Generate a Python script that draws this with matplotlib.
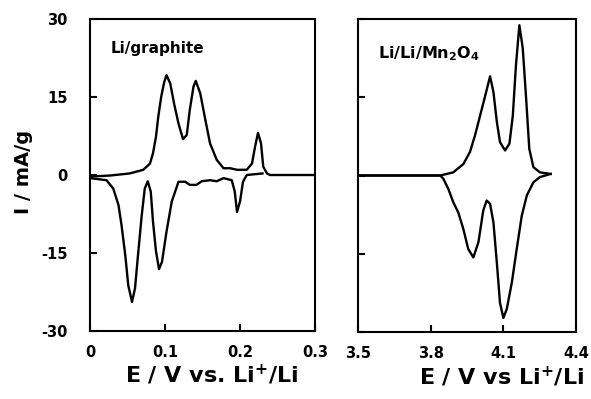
import matplotlib
matplotlib.use("Agg")
import matplotlib.pyplot as plt

plt.rcParams['font.family'] = ['DejaVu Sans']
plt.rcParams['font.weight'] = 'bold'
plt.rcParams['mathtext.default'] = 'bf'

# Li/graphite: anodic sweep (upper branch)
gr_up_v = [0.0, 0.027, 0.053, 0.071, 0.080, 0.084, 0.088, 0.091, 0.095, 0.099, 0.102,
           0.107, 0.112, 0.118, 0.124, 0.129, 0.133, 0.138, 0.141, 0.147, 0.153,
           0.160, 0.169, 0.178, 0.187, 0.196, 0.209, 0.216, 0.220, 0.224, 0.228,
           0.231, 0.236, 0.240, 0.300]
gr_up_i = [-0.3, -0.1, 0.3, 1.0, 2.2, 4.2, 7.4, 11.2, 15.1, 17.9, 19.2,
           17.6, 13.8, 9.9, 6.9, 7.7, 12.5, 17.0, 18.1, 15.7, 11.2,
           6.1, 2.9, 1.3, 1.3, 1.0, 1.0, 2.2, 5.4, 8.1, 6.1,
           1.6, 0.3, 0.0, 0.0]
# Li/graphite: cathodic sweep (lower branch)
gr_dn_v = [0.0, 0.022, 0.031, 0.038, 0.042, 0.047, 0.051, 0.056, 0.060, 0.064, 0.069,
           0.073, 0.077, 0.081, 0.084, 0.088, 0.092, 0.096, 0.102, 0.109, 0.118,
           0.127, 0.133, 0.142, 0.149, 0.160, 0.169, 0.178, 0.189, 0.193, 0.196,
           0.200, 0.204, 0.209, 0.230]
gr_dn_i = [-0.6, -1.0, -2.6, -5.8, -9.6, -15.4, -21.2, -24.4, -21.8, -15.4, -7.7,
           -2.6, -1.2, -3.2, -9.0, -14.7, -18.1, -16.7, -10.9, -5.1, -1.3,
           -1.3, -1.9, -1.9, -1.2, -1.0, -1.2, -0.6, -1.0, -3.2, -7.1,
           -5.1, -1.3, 0.0, 0.3]

# Li/LiMn2O4: anodic sweep
mn_up_v = [3.5, 3.839, 3.893, 3.935, 3.962, 3.983, 4.004, 4.024, 4.045, 4.059, 4.073,
           4.086, 4.107, 4.125, 4.139, 4.152, 4.166, 4.180, 4.194, 4.207, 4.224,
           4.251, 4.295]
mn_up_i = [0.0, 0.0, 0.6, 2.2, 4.5, 7.7, 11.5, 15.1, 19.0, 16.0, 10.3,
           6.4, 4.8, 6.1, 11.5, 21.2, 28.8, 24.4, 14.7, 5.1, 1.6,
           0.6, 0.3]
# Li/LiMn2O4: cathodic sweep
mn_dn_v = [4.295, 4.251, 4.224, 4.197, 4.176, 4.155, 4.135, 4.114, 4.100, 4.086, 4.073,
           4.059, 4.045, 4.031, 4.017, 3.997, 3.976, 3.955, 3.935, 3.914, 3.893,
           3.873, 3.852, 3.839, 3.5]
mn_dn_i = [0.3, -0.3, -1.3, -3.8, -7.7, -14.1, -20.5, -25.6, -27.3, -24.4, -16.7,
           -9.0, -5.4, -4.8, -6.7, -12.8, -15.7, -14.1, -10.3, -7.1, -5.1,
           -2.6, -0.6, 0.0, 0.0]

fig = plt.figure(figsize=(5.91, 3.99), dpi=100)
ax1 = fig.add_axes([0.1523, 0.1704, 0.3807, 0.782])
ax2 = fig.add_axes([0.6058, 0.1679, 0.3689, 0.7845])

for ax in (ax1, ax2):
    for s in ax.spines.values():
        s.set_linewidth(1.5)
    ax.tick_params(direction="in", length=5, width=1.5, labelsize=10.5)
    ax.tick_params(axis="x", pad=10)
    ax.set_ylim(-30, 30)
    ax.set_yticks([-30, -15, 0, 15, 30])

ax1.plot(gr_up_v, gr_up_i, color="black", lw=1.7)
ax1.plot(gr_dn_v, gr_dn_i, color="black", lw=1.7)
ax1.set_xlim(0, 0.3)
ax1.set_xticks([0, 0.1, 0.2, 0.3])
ax1.set_xticklabels(["0", "0.1", "0.2", "0.3"])
ax1.set_yticklabels(["-30", "-15", "0", "15", "30"])
ax1.tick_params(axis="y", pad=16)
ax1.set_xlabel("E / V vs. Li$^{+}$/Li", fontsize=16, fontweight="bold")
ax1.xaxis.set_label_coords(0.542, -0.103)
ax1.set_ylabel("I / mA/g", fontsize=14, fontweight="bold")
ax1.yaxis.set_label_coords(-0.253, 0.51)
ax1.text(0.027, 23.4, "Li/graphite", fontsize=11, fontweight="bold", va="baseline")

ax2.plot(mn_up_v, mn_up_i, color="black", lw=1.7)
ax2.plot(mn_dn_v, mn_dn_i, color="black", lw=1.7)
ax2.set_xlim(3.5, 4.4)
ax2.set_xticks([3.5, 3.8, 4.1, 4.4])
ax2.set_xticklabels(["3.5", "3.8", "4.1", "4.4"])
ax2.set_yticklabels([])
ax2.set_xlabel("E / V vs Li$^{+}$/Li", fontsize=16, fontweight="bold")
ax2.xaxis.set_label_coords(0.66, -0.103)
ax2.text(3.583, 22.4, "Li/Li/Mn$_2$O$_4$", fontsize=11.5, fontweight="bold", va="baseline")

fig.savefig("out.png", dpi=100)
